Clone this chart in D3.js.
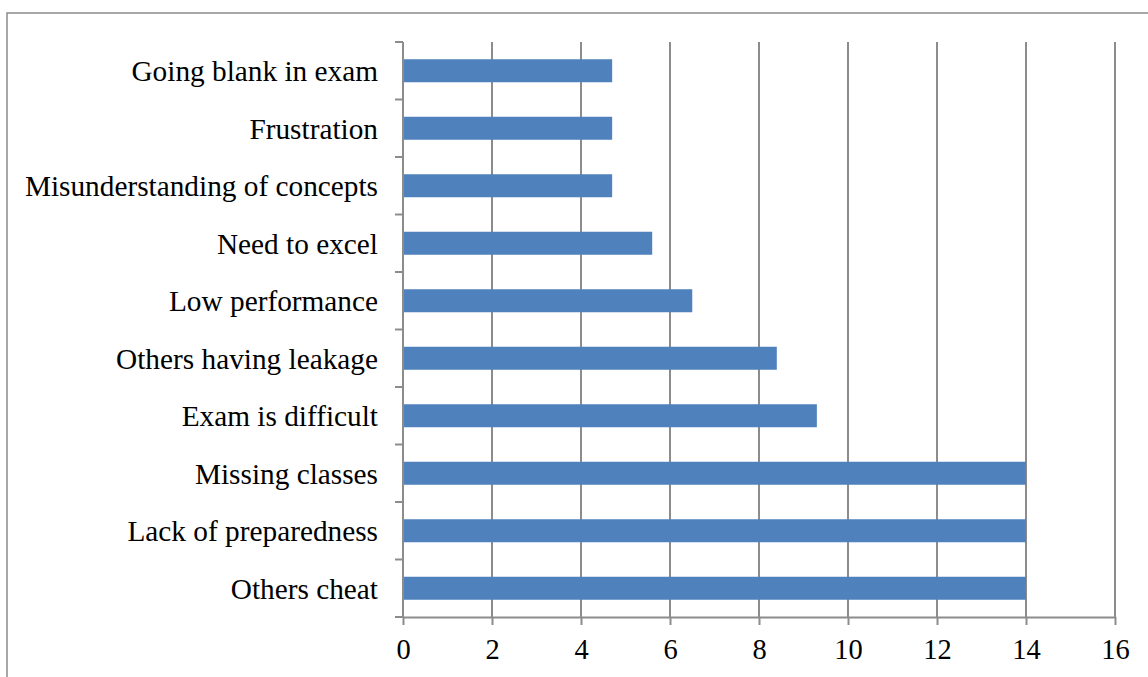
<!DOCTYPE html>
<html>
<head>
<meta charset="utf-8">
<script src="https://cdn.jsdelivr.net/npm/d3@7"></script>
<style>
    body { margin: 0; background: #fff; }
    svg { display: block; }
    text { font-family: "Liberation Serif", "Times New Roman", serif; }
</style>
</head>
<body>
<div id="container"></div>
<script>
// data, top to bottom as drawn
const categories = [
    'Going blank in exam', 'Frustration', 'Misunderstanding of concepts',
    'Need to excel', 'Low performance', 'Others having leakage',
    'Exam is difficult', 'Missing classes', 'Lack of preparedness', 'Others cheat'
];
const values = [4.7, 4.7, 4.7, 5.6, 6.5, 8.4, 9.3, 14, 14, 14];
const xTicks = [0, 2, 4, 6, 8, 10, 12, 14, 16];

const width = 1148;
const height = 677;
const margin = {left: 403, right: 33, top: 42, bottom: 60};
const innerWidth = width - margin.left - margin.right;
const innerHeight = 617 - margin.top;
const gridColor = '#8c8c8c';
const font = '"Liberation Serif", "Times New Roman", serif';

const svg = d3.select('#container')
    .append('svg')
    .attr('width', width)
    .attr('height', height);

// outer frame (right and bottom edges fall outside the picture)
svg.append('path')
    .attr('d', `M7,${height}V13H${width}`)
    .attr('fill', 'none')
    .attr('stroke', '#8a8a8a')
    .attr('stroke-width', 1.5);

const g = svg.append('g')
    .attr('transform', `translate(${margin.left},${margin.top})`);

const xScale = d3.scaleLinear().domain([0, 16]).range([0, innerWidth]);
const yScale = d3.scaleBand()
    .domain(categories)
    .range([0, innerHeight])
    .paddingInner(0.6)
    .paddingOuter(0.3);

// vertical gridlines
g.selectAll('.grid')
    .data(xTicks.filter(d => d > 0))
    .enter()
    .append('line')
    .attr('class', 'grid')
    .attr('x1', d => xScale(d))
    .attr('x2', d => xScale(d))
    .attr('y1', 0)
    .attr('y2', innerHeight)
    .attr('stroke', gridColor)
    .attr('stroke-width', 2);

// bars
g.selectAll('.bar')
    .data(categories)
    .enter()
    .append('rect')
    .attr('class', 'bar')
    .attr('x', 0)
    .attr('y', d => yScale(d))
    .attr('width', (d, i) => xScale(values[i]))
    .attr('height', yScale.bandwidth())
    .attr('fill', '#4f81bd');

// x axis
const xAxisG = g.append('g')
    .attr('transform', `translate(0,${innerHeight})`)
    .call(d3.axisBottom(xScale).tickValues(xTicks).tickSize(8).tickPadding(14).tickSizeOuter(0))
    .attr('font-family', font)
    .attr('font-size', 28.5);

// y axis: ticks sit on the band boundaries, labels at band centres
const bounds = d3.range(categories.length + 1).map(i => i * yScale.step());
const yAxisG = g.append('g');
yAxisG.append('line')
    .attr('x1', 0).attr('x2', 0)
    .attr('y1', 0).attr('y2', innerHeight)
    .attr('stroke', gridColor)
    .attr('stroke-width', 2);
yAxisG.selectAll('.ytick')
    .data(bounds)
    .enter()
    .append('line')
    .attr('class', 'ytick')
    .attr('x1', -8).attr('x2', 0)
    .attr('y1', d => d).attr('y2', d => d)
    .attr('stroke', gridColor)
    .attr('stroke-width', 2);
yAxisG.selectAll('.ylabel')
    .data(categories)
    .enter()
    .append('text')
    .attr('class', 'ylabel')
    .attr('x', -25)
    .attr('y', d => yScale(d) + yScale.bandwidth() / 2)
    .attr('dy', '0.35em')
    .attr('text-anchor', 'end')
    .style('font-family', font)
    .style('font-size', '29.3px')
    .attr('fill', '#000')
    .text(d => d);

xAxisG.select('.domain').attr('stroke', gridColor).attr('stroke-width', 2);
xAxisG.selectAll('.tick line').attr('stroke', gridColor).attr('stroke-width', 2);
xAxisG.selectAll('.tick text')
    .style('font-family', font)
    .style('font-size', '28.5px')
    .attr('fill', '#000');
</script>
</body>
</html>
